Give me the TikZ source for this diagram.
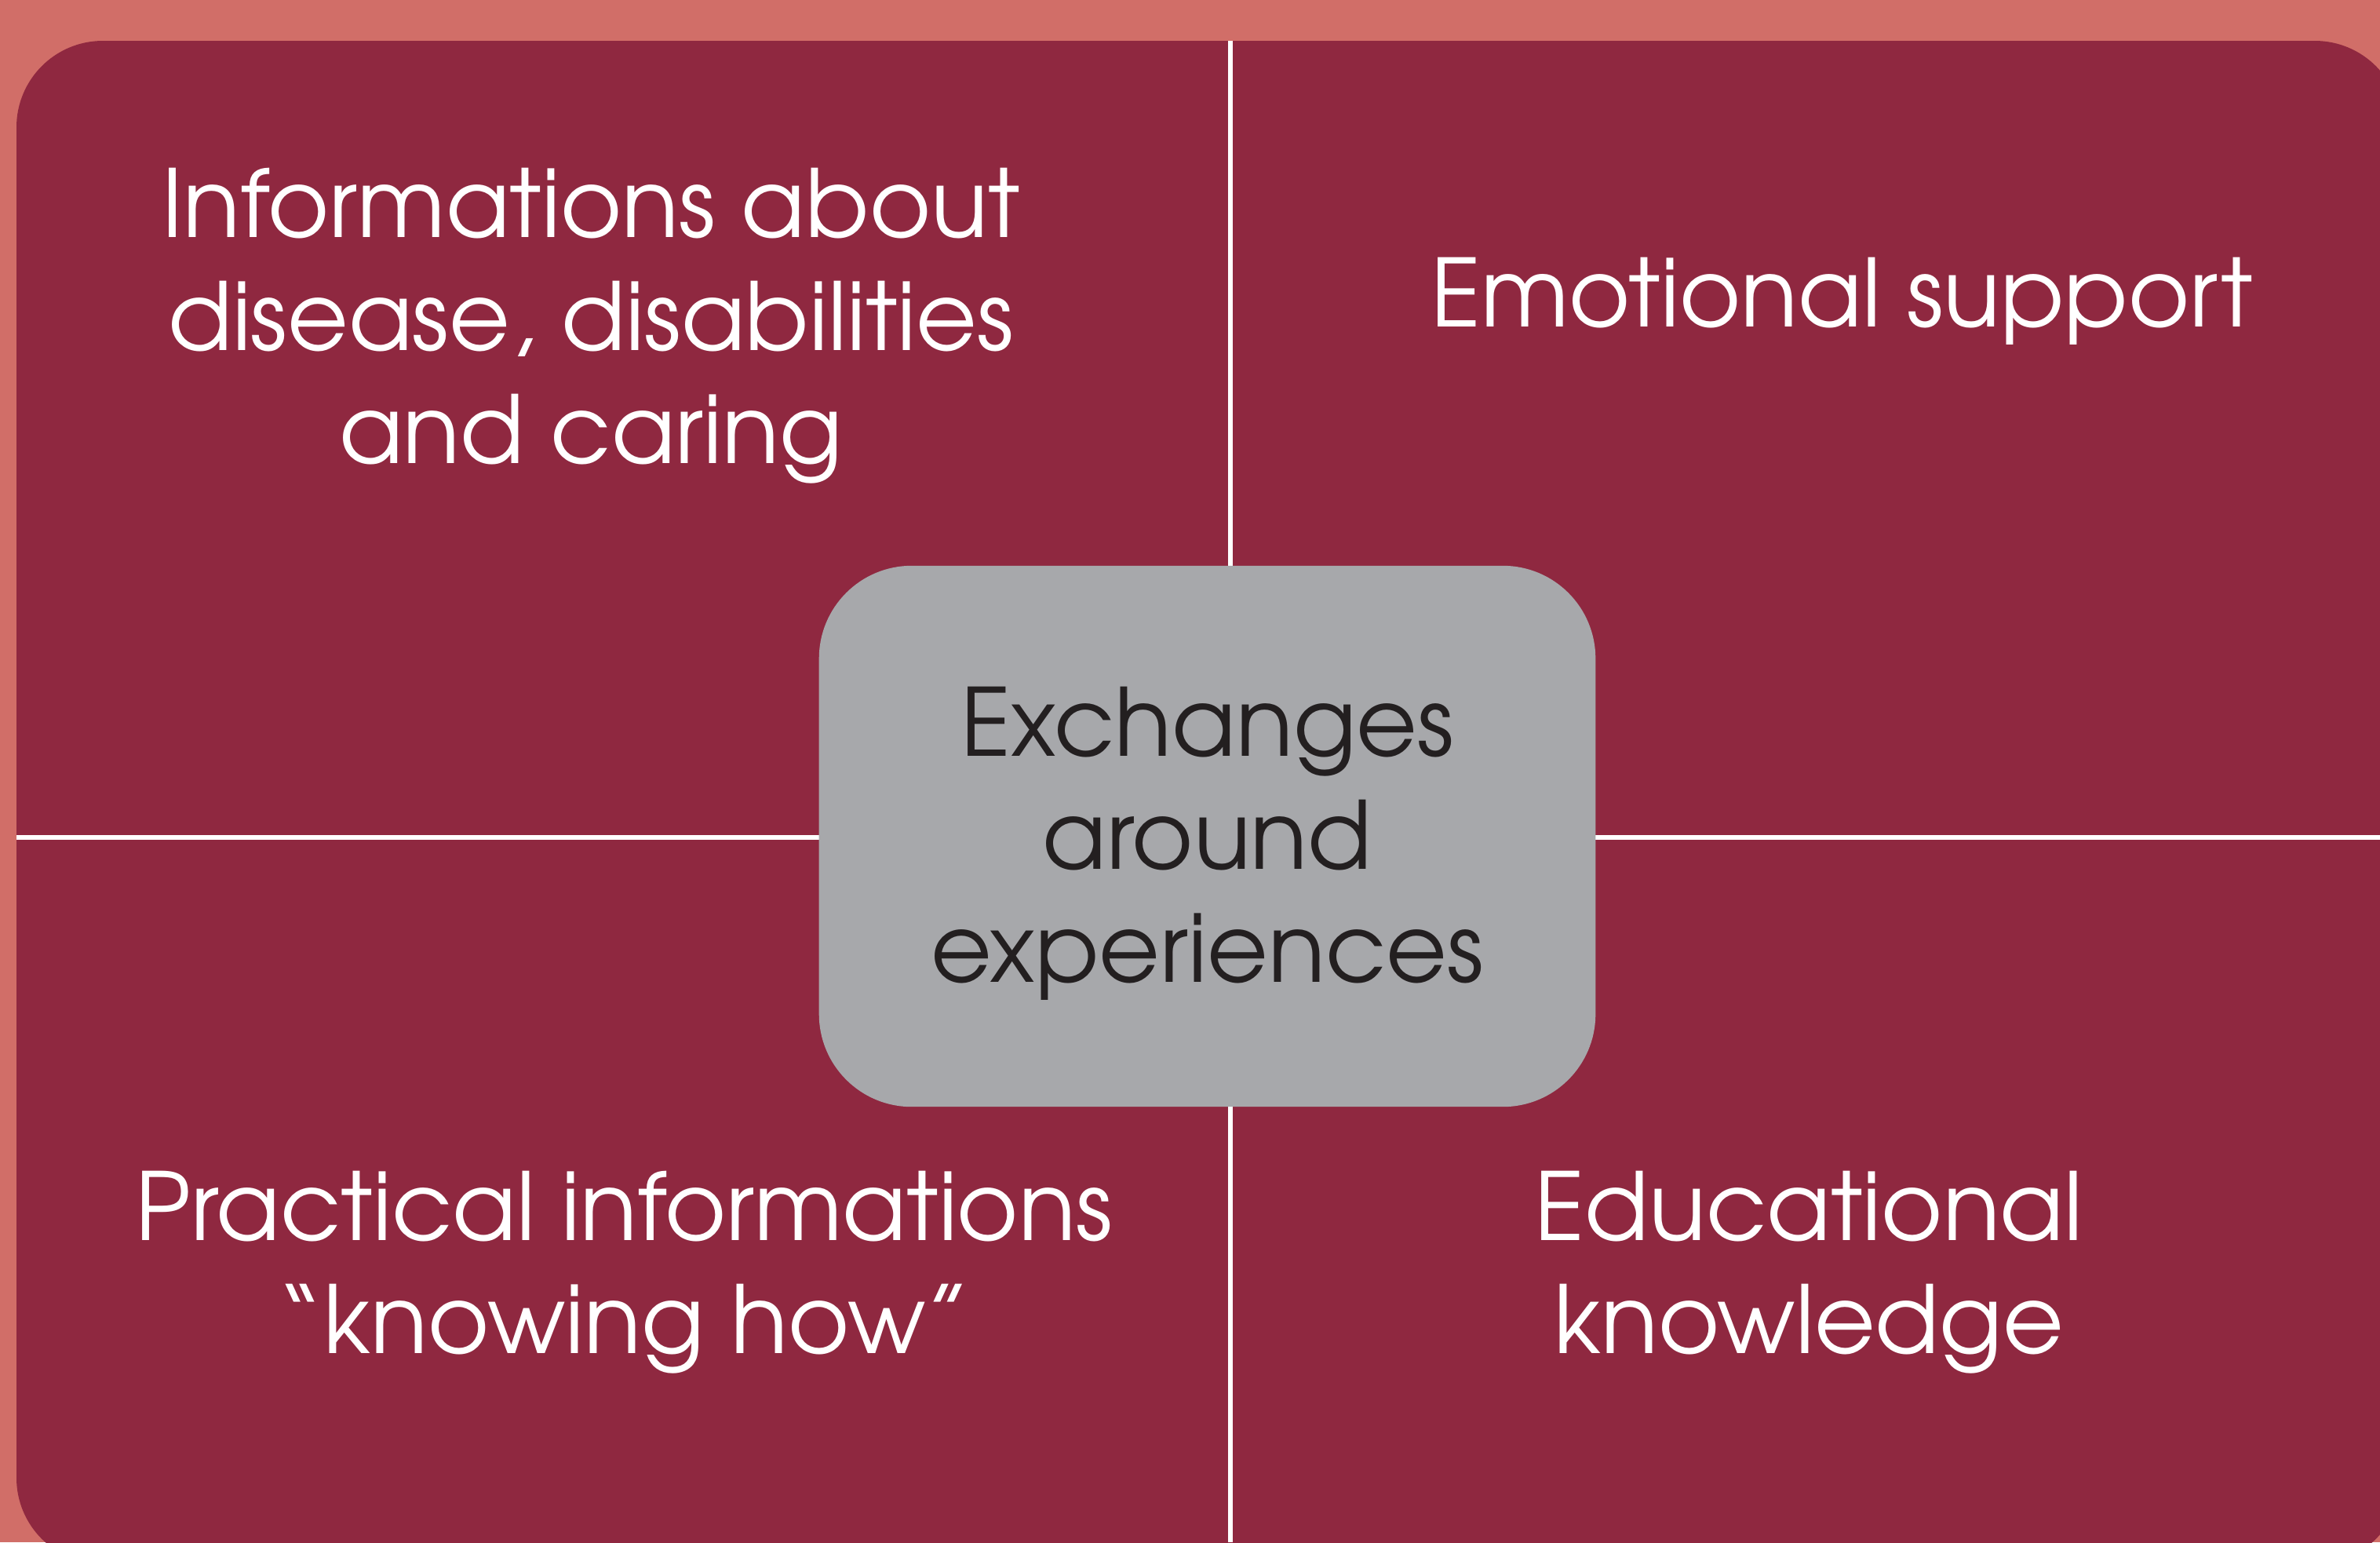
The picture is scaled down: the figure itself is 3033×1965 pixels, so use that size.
\documentclass[tikz,border=0pt]{standalone}
\usepackage{fontspec}
\setmainfont{texgyreadventor-regular.otf}
\definecolor{salmon}{RGB}{209,110,104}
\definecolor{wine}{RGB}{143,40,64}
\definecolor{boxgray}{RGB}{167,168,171}
\definecolor{ink}{RGB}{35,31,32}
\tikzset{
  lbl/.style={text=white, align=center, font=\fontsize{34}{41}\selectfont, inner sep=0pt},
  divider/.style={draw=white, line width=0.06cm},
  hub/.style={fill=boxgray, rounded corners=1.18cm, minimum width=9.89cm, minimum height=6.89cm, inner sep=0pt, text=ink, align=center, font=\fontsize{34}{41}\selectfont}
}
\begin{document}
\begin{tikzpicture}[x=0.01cm,y=-0.01cm]
\useasboundingbox (0,0) rectangle (3033,1965);
\fill[salmon] (0,0) rectangle (3033,1965);
\begin{scope}
\clip (0,0) rectangle (3033,1965);
\fill[wine, rounded corners=1.1cm] (21,52) rectangle (3060,1993);
\end{scope}
\coordinate (vtop) at (1568,52);
\coordinate (vbot) at (1568,1965);
\coordinate (hleft) at (21,1067);
\coordinate (hright) at (3033,1067);
\draw[divider] (vtop) -- (vbot);
\draw[divider] (hleft) -- (hright);
\node[hub] (hubnode) at (1538.5,1065.5) {};
\node[text=ink, align=center, font=\fontsize{34}{41}\selectfont, inner sep=0pt] (hubtext) at (1538.5,1075) {Exchanges\\around\\experiences};
\node[lbl] (info) at (753,415) {Informations about\\disease, disabilities\\and caring};
\node[lbl] (emo) at (2347,384) {Emotional support};
\node[lbl] (prac) at (795,1621) {Practical informations\\``knowing how''};
\node[lbl] (edu) at (2305,1621) {Educational\\knowledge};
\end{tikzpicture}
\end{document}
